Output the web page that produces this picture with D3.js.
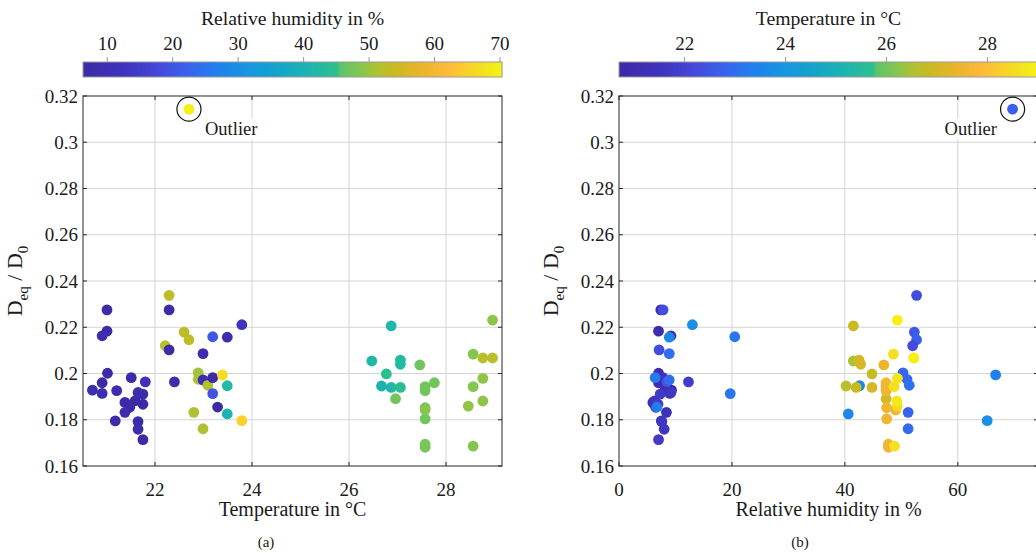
<!DOCTYPE html>
<html><head><meta charset="utf-8">
<script src="https://cdn.jsdelivr.net/npm/d3@7"></script>
<style>
body{margin:0;background:#fff;overflow:hidden}
text{font-family:"Liberation Serif","DejaVu Serif",serif;fill:#1a1a1a}
</style>
</head><body>
<svg id="c" width="1036" height="553"></svg>
<script>
// ---------- data ----------
const temperature = [
  21.01,21.01,20.91,21.02,20.71,20.91,20.91,21.21,21.51,21.80,21.38,21.59,21.48,21.38,21.65,21.75,21.75,21.18,21.65,21.65,21.75,
  22.29,22.29,22.60,22.70,22.21,22.29,22.99,23.19,23.49,23.79,22.40,22.89,22.89,22.99,23.09,23.19,23.39,23.49,23.19,23.29,23.49,22.80,22.99,23.79,
  26.87,26.47,27.06,27.06,27.46,26.77,26.67,26.87,27.06,26.96,27.76,27.57,27.57,27.57,27.57,27.57,27.57,27.57,
  28.96,28.56,28.76,28.96,28.76,28.56,28.46,28.76,28.56
];
const humidity = [
  7.4,7.0,9.2,7.0,9.3,7.0,9.0,8.1,7.8,12.3,6.0,6.3,6.5,8.4,9.2,7.3,6.9,7.5,7.6,8.0,7.0,
  52.7,7.8,52.3,52.7,52.0,7.1,8.9,20.5,8.9,13.0,8.5,50.3,51.0,8.9,51.4,6.4,66.7,42.6,19.7,6.7,40.6,51.2,51.2,65.2,
  41.5,41.5,42.5,42.8,46.9,44.8,40.2,42.0,44.8,47.3,47.3,47.3,47.3,47.4,49.0,47.4,47.7,47.7,
  49.3,48.6,52.2,52.2,49.3,48.7,49.3,49.2,48.8
];
const ratio = [
  0.2275,0.2183,0.2163,0.2001,0.1928,0.1960,0.1914,0.1926,0.1982,0.1964,0.1875,0.1882,0.1854,0.1832,0.1918,0.1911,0.1867,0.1795,0.1792,0.1759,0.1714,
  0.2338,0.2275,0.2179,0.2146,0.2120,0.2102,0.2086,0.2159,0.2157,0.2211,0.1964,0.2003,0.1975,0.1972,0.1949,0.1982,0.1994,0.1947,0.1913,0.1855,0.1825,0.1832,0.1761,0.1796,
  0.2206,0.2054,0.2058,0.2040,0.2037,0.1998,0.1946,0.1940,0.1940,0.1891,0.1960,0.1943,0.1926,0.1852,0.1842,0.1804,0.1694,0.1681,
  0.2231,0.2084,0.2067,0.2067,0.1979,0.1943,0.1859,0.1881,0.1686
];
const outlierT = 22.7, outlierRH = 69.7, outlierD = 0.3143;

const yTicks = [0.16,0.18,0.20,0.22,0.24,0.26,0.28,0.30,0.32];
const tempAxisTicks = [22,24,26,28];
const rhAxisTicks = [0,20,40,60];
const rhBarTicks = [10,20,30,40,50,60,70];
const tempBarTicks = [22,24,26,28];
const rhLimits = [6.3,70.3];
const tempLimits = [20.7,29.0];

// colormap (parula-like, as seen in the figure)
const cmapPos = [0,0.10,0.18,0.26,0.32,0.40,0.48,0.56,0.605,0.615,0.66,0.70,0.74,0.80,0.86,0.90,0.95,1];
const cmapCol = ["#3c2aa6","#3e33bd","#4548dc","#3766ee","#2080ee","#1697e0","#12a8c6","#22b8a6","#2cbf8e","#5ec36a","#82c650","#aec132","#c8ba22","#e8b42a","#fcb83a","#fcc830","#f3e020","#f6f214"];
const cmap = d3.scaleLinear().domain(cmapPos).range(cmapCol).interpolate(d3.interpolateRgb).clamp(true);

const svg = d3.select("#c");
const fmtY = v => String(+v.toFixed(2));

function panel(o){
  const x0=o.x0, w=419, top=96, bot=466;
  const x = d3.scaleLinear().domain(o.xDomain).range([x0,x0+w]);
  const y = d3.scaleLinear().domain([0.16,0.32]).range([bot,top]);
  const c = d3.scaleLinear().domain(o.cDomain).range([0,1]);
  const g = svg.append("g");

  // grid
  g.selectAll(null).data(o.xTicks.filter(t=>x(t)>x0+1)).enter().append("line")
    .attr("x1",d=>x(d)).attr("x2",d=>x(d)).attr("y1",top).attr("y2",bot)
    .attr("stroke","#d4d4d4").attr("stroke-width",1);
  g.selectAll(null).data(yTicks.filter(t=>t>0.161&&t<0.319)).enter().append("line")
    .attr("x1",x0).attr("x2",x0+w).attr("y1",d=>y(d)).attr("y2",d=>y(d))
    .attr("stroke","#d4d4d4").attr("stroke-width",1);

  // points
  g.selectAll(null).data(d3.range(ratio.length)).enter().append("circle")
    .attr("cx",i=>x(o.xVals[i])).attr("cy",i=>y(ratio[i])).attr("r",5.4)
    .attr("fill",i=>cmap(c(o.cVals[i])));
  g.append("circle").attr("cx",x(o.outX)).attr("cy",y(outlierD)).attr("r",5.4)
    .attr("fill",cmap(c(o.outC)));
  g.append("circle").attr("cx",x(o.outX)).attr("cy",y(outlierD)).attr("r",12)
    .attr("fill","none").attr("stroke","#111").attr("stroke-width",1.2);
  const lbl = g.append("text").attr("x",o.lblX).attr("y",135).attr("font-size",18.5)
    .attr("text-anchor",o.lblAnchor).text("Outlier");
  const bb = lbl.node().getBBox();
  g.insert("rect","text").attr("x",bb.x-2).attr("y",bb.y).attr("width",bb.width+4).attr("height",bb.height).attr("fill","#fff");

  // box & ticks
  const ax = g.append("g").attr("stroke","#262626").attr("stroke-width",1);
  ax.append("rect").attr("x",x0).attr("y",top).attr("width",w).attr("height",bot-top).attr("fill","none");
  o.xTicks.forEach(t=>{
    ax.append("line").attr("x1",x(t)).attr("x2",x(t)).attr("y1",bot).attr("y2",bot-4);
    ax.append("line").attr("x1",x(t)).attr("x2",x(t)).attr("y1",top).attr("y2",top+4);
  });
  yTicks.forEach(t=>{
    ax.append("line").attr("x1",x0).attr("x2",x0+4).attr("y1",y(t)).attr("y2",y(t));
    ax.append("line").attr("x1",x0+w).attr("x2",x0+w-4).attr("y1",y(t)).attr("y2",y(t));
  });
  g.selectAll(null).data(o.xTicks).enter().append("text")
    .attr("x",d=>x(d)).attr("y",496).attr("text-anchor","middle").attr("font-size",19).text(d=>d);
  g.selectAll(null).data(yTicks).enter().append("text")
    .attr("x",x0-5).attr("y",d=>y(d)+6.5).attr("text-anchor","end").attr("font-size",19).text(fmtY);

  // axis titles
  g.append("text").attr("x",x0+w/2).attr("y",516).attr("text-anchor","middle").attr("font-size",20).text(o.xTitle);
  const yl = g.append("text").attr("transform",`translate(${x0-61},281) rotate(-90)`).attr("text-anchor","middle").attr("font-size",22);
  yl.append("tspan").text("D");
  yl.append("tspan").attr("font-size",15).attr("dy",6).text("eq");
  yl.append("tspan").attr("dy",-6).text(" / D");
  yl.append("tspan").attr("font-size",15).attr("dy",6).text("0");
  g.append("text").attr("x",o.capX).attr("y",547).attr("text-anchor","middle").attr("font-size",15).text(o.caption);

  // colorbar
  const cb = d3.scaleLinear().domain(o.cDomain).range([x0,x0+w]);
  const cbTop=62, cbH=15;
  g.selectAll(null).data(d3.range(w)).enter().append("rect")
    .attr("x",i=>x0+i).attr("y",cbTop).attr("width",1.2).attr("height",cbH)
    .attr("fill",i=>cmap((i+0.5)/w));
  g.append("rect").attr("x",x0).attr("y",cbTop).attr("width",w).attr("height",cbH)
    .attr("fill","none").attr("stroke","#9a9a9a").attr("stroke-width",1);
  g.selectAll(null).data(o.cTicks).enter().append("line")
    .attr("x1",d=>cb(d)).attr("x2",d=>cb(d)).attr("y1",57).attr("y2",cbTop)
    .attr("stroke","#9a9a9a");
  g.selectAll(null).data(o.cTicks).enter().append("text")
    .attr("x",d=>cb(d)).attr("y",50).attr("text-anchor","middle").attr("font-size",19).text(d=>d);
  g.append("text").attr("x",x0+w/2).attr("y",25).attr("text-anchor","middle").attr("font-size",19.7).text(o.cTitle);
}

panel({x0:83, xDomain:[20.515,29.155], xTicks:tempAxisTicks, xVals:temperature,
  cVals:humidity, cDomain:rhLimits, cTicks:rhBarTicks, outX:outlierT, outC:outlierRH,
  lblX:205, lblAnchor:"start", xTitle:"Temperature in °C", cTitle:"Relative humidity in %",
  caption:"(a)", capX:266});
panel({x0:619, xDomain:[0,74.2], xTicks:rhAxisTicks, xVals:humidity,
  cVals:temperature, cDomain:tempLimits, cTicks:tempBarTicks, outX:outlierRH, outC:outlierT,
  lblX:997, lblAnchor:"end", xTitle:"Relative humidity in %", cTitle:"Temperature in °C",
  caption:"(b)", capX:800});
</script>
</body></html>
